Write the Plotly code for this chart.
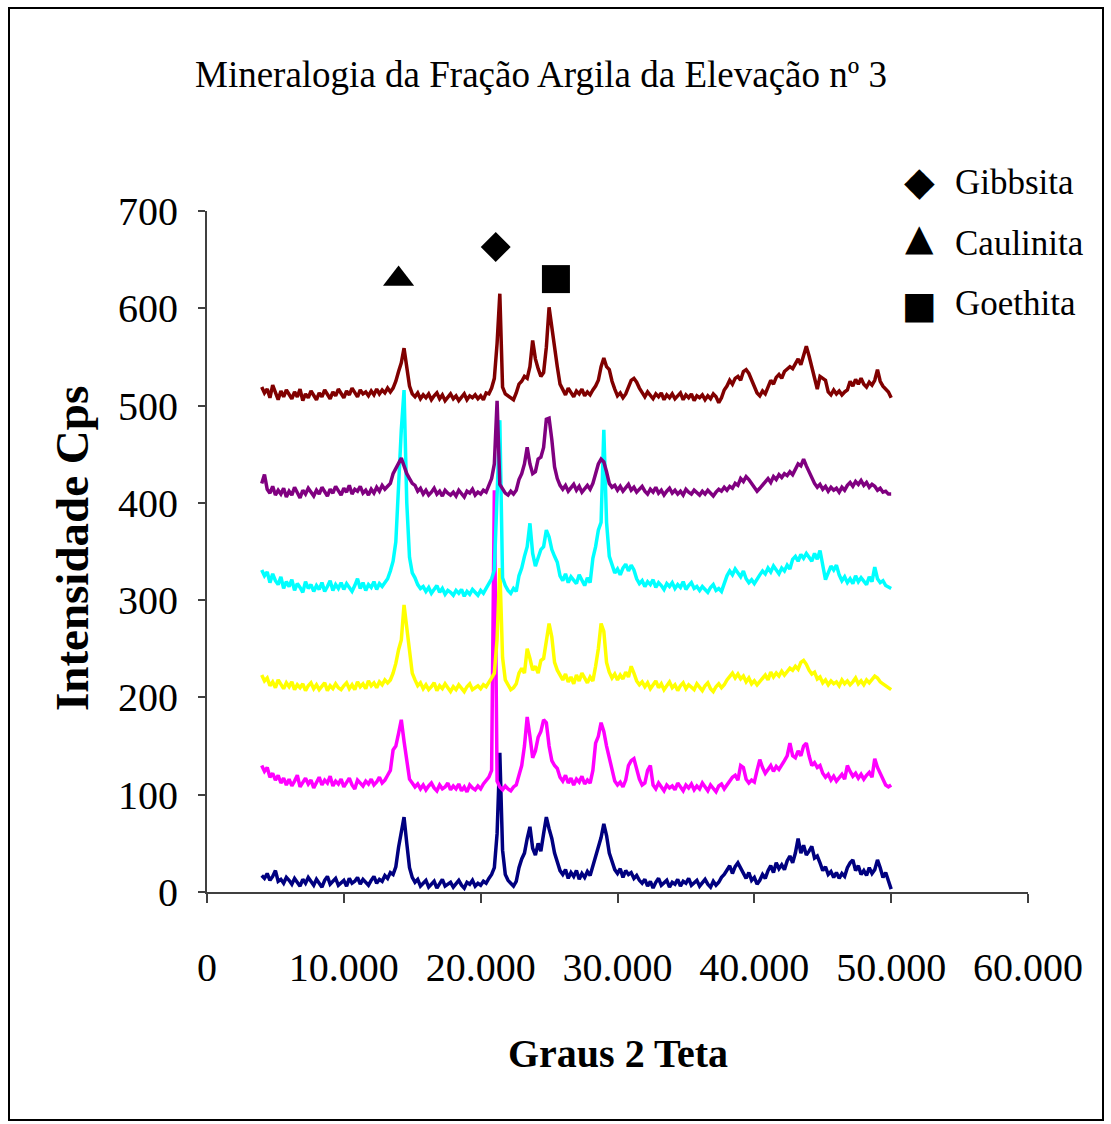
import numpy as np
import plotly.graph_objects as go

# 2-theta sampling grid (degrees)
two_theta = np.round(np.arange(4.0, 50.0001, 0.2), 1)

s1_navy = [
    17, 14, 19, 12, 16, 22, 11, 13, 9, 15,
    12, 8, 14, 10, 6, 13, 9, 15, 11, 7,
    13, 9, 5, 12, 16, 8, 11, 14, 7, 10,
    12, 6, 14, 9, 11, 15, 8, 13, 10, 7,
    12, 16, 9, 13, 11, 17, 14, 20, 18, 26,
    46, 60, 77, 50, 25, 15, 10, 13, 6, 9,
    12, 5, 8, 11, 4, 9, 13, 6, 8, 10,
    5, 9, 12, 7, 4, 10, 8, 12, 6, 9,
    7, 11, 9, 14, 18, 25, 60, 143, 43, 18,
    12, 9, 6, 11, 25, 34, 40, 55, 67, 45,
    38, 50, 42, 60, 77, 65, 55, 40, 30, 22,
    18, 23, 14, 20, 16, 22, 13, 19, 15, 21,
    17, 27, 35, 45, 56, 70, 58, 40, 30, 23,
    19, 24, 15, 22, 18, 20, 14, 17, 12, 9,
    13, 6, 11, 4, 10, 14, 7, 9, 12, 5,
    10, 8, 13, 6, 11, 9, 14, 7, 10, 12,
    6, 9, 13, 8, 5, 11, 7, 10, 15, 18,
    22, 27, 19, 26, 30, 24, 18, 14, 20, 12,
    15, 8, 12, 18, 14, 22, 27, 20, 30, 24,
    28, 23, 32, 37, 30, 40, 55, 40, 48, 38,
    42, 47, 35, 37, 30, 22, 26, 18, 21, 15,
    20, 14, 19, 16, 25, 30, 33, 22, 27, 18,
    22, 17, 25, 19, 23, 33, 25, 15, 20, 12,
    3,
]

s2_magenta = [
    130, 124, 128, 118, 122, 115, 120, 112, 117, 110,
    116, 109, 114, 120, 108, 113, 117, 111, 115, 107,
    113, 118, 110, 115, 112, 119, 109, 114, 111, 116,
    108, 113, 117, 110, 106, 115, 112, 109, 114, 111,
    116, 110, 113, 118, 112, 115, 120, 125, 146, 150,
    163, 177, 155, 137, 116, 112, 108, 111, 106, 110,
    105, 109, 112, 107, 104, 110, 106, 108, 112, 105,
    109, 106, 111, 104, 108, 103, 110, 107, 105, 109,
    106, 111, 115, 118, 125, 413, 114, 108, 105, 109,
    106, 104, 108, 110, 120, 130, 150, 180, 160, 138,
    145, 159, 165, 177, 174, 150, 135, 130, 127, 118,
    114, 120, 112, 117, 110, 116, 113, 119, 111, 115,
    112, 125, 153, 160, 174, 165, 150, 137, 125, 114,
    110, 113, 108, 115, 130, 135, 137, 125, 116, 110,
    112, 125, 130, 110, 106, 112, 108, 104, 110, 107,
    109, 105, 112, 108, 104, 110, 107, 111, 105, 109,
    106, 112, 108, 104, 110, 107, 103, 109, 111, 106,
    110, 114, 118, 120, 115, 130, 128, 116, 112, 115,
    113, 125, 136, 128, 122, 126, 130, 124, 129, 126,
    130, 135, 140, 153, 140, 138, 145, 140, 150, 153,
    140, 130, 133, 128, 130, 122, 118, 121, 115, 119,
    114, 118, 121, 116, 130, 124, 119, 122, 117, 121,
    116, 120, 123, 118, 137, 128, 122, 118, 110, 108,
    110,
]

s3_yellow = [
    223, 217, 220, 212, 216, 210, 218, 213, 209, 215,
    211, 216, 208, 213, 210, 214, 207, 212, 215, 209,
    213, 208, 211, 215, 207, 212, 209, 214, 210, 208,
    212, 215, 209, 213, 208, 216, 211, 214, 209, 217,
    212, 215, 210, 216, 213, 218, 215, 218, 225, 235,
    249, 259, 295, 270, 245, 225, 218, 212, 215, 209,
    213, 208, 211, 215, 207, 212, 209, 214, 210, 206,
    211, 208, 213, 209, 206, 211, 214, 208, 210, 212,
    209, 213, 211, 215, 220, 225, 260, 333, 241, 218,
    212, 208, 210, 214, 225, 230, 225, 250, 240, 228,
    232, 225, 238, 240, 258, 276, 262, 236, 228, 222,
    218, 224, 216, 221, 214, 223, 217, 225, 219, 215,
    221, 217, 232, 250, 276, 268, 236, 226, 220, 224,
    218, 223, 219, 226, 221, 232, 225, 217, 213, 216,
    211, 215, 209, 213, 217, 210, 214, 208, 212, 216,
    210, 213, 207, 212, 215, 209, 213, 211, 208, 214,
    210, 207, 212, 215, 209, 206, 211, 214, 210, 213,
    218, 222, 225, 220, 224, 219, 222, 216, 220, 214,
    217, 213, 216, 220, 223, 218, 226, 221, 225, 222,
    227, 223, 226, 230, 228, 232, 229, 236, 238, 234,
    228, 224, 226, 219, 221, 215, 218, 213, 217, 214,
    216, 212, 218, 214, 217, 213, 216, 220, 214, 217,
    213, 218, 215, 219, 222, 220, 216, 214, 212, 210,
    208,
]

s4_cyan = [
    331, 325, 329, 318, 327, 320, 316, 324, 312, 319,
    314, 321, 310, 317, 313, 308, 319, 312, 316, 309,
    315, 311, 318, 309, 314, 320, 310, 316, 312, 318,
    311, 317, 313, 309, 315, 322, 312, 318, 310, 316,
    313, 319, 311, 317, 314, 318, 322, 330, 340, 360,
    420, 475, 516, 400, 344, 328, 323, 316, 312, 314,
    309, 313, 307, 311, 315, 308, 312, 306, 310, 308,
    305, 310, 307, 311, 304, 309, 306, 311, 308, 305,
    310, 307, 312, 318, 322, 331, 420, 485, 323, 315,
    310, 307, 312, 309, 325, 333, 345, 355, 379, 348,
    335, 345, 352, 355, 372, 365, 352, 345, 339, 325,
    320, 327, 318, 324, 321, 317, 326, 320, 315, 323,
    318, 343, 355, 372, 380, 475, 380, 345, 335, 328,
    332, 326, 333, 337, 330, 336, 331, 322, 317, 320,
    314, 319, 316, 321, 313, 318, 315, 311, 317, 314,
    318, 312, 316, 313, 319, 311, 315, 318, 312, 314,
    310, 314, 311, 308, 313, 316, 310, 312, 309, 318,
    325, 330, 326, 332, 328, 324, 330, 322, 318, 321,
    317, 322, 326, 330, 327, 333, 329, 335, 331, 327,
    333, 330, 336, 332, 342, 345, 340, 347, 343, 348,
    344, 340, 348, 342, 351, 338, 321, 328, 335, 331,
    336, 326, 320, 324, 318, 322, 317, 325, 319, 323,
    320, 316, 324, 319, 334, 322, 318, 320, 315, 313,
    312,
]

s5_purple = [
    420, 429, 414, 410, 417, 408, 413, 409, 415, 406,
    412, 408, 416, 410, 405, 413, 409, 415, 411, 407,
    413, 409, 416, 411, 407, 414, 410, 417, 412, 408,
    415, 411, 418, 409, 414, 412, 417, 410, 413, 408,
    414, 410, 416, 412, 418, 414, 417, 420, 430, 435,
    440, 446, 438, 430, 425, 420, 418, 412, 415, 409,
    413, 408, 411, 415, 409, 412, 407, 413, 410, 408,
    411, 407, 413, 409, 406, 412, 410, 414, 408, 411,
    409, 413, 411, 418, 425, 440, 505, 419, 414, 410,
    408, 412, 409, 413, 424, 430, 440, 457, 440, 430,
    432, 445, 447, 457, 486, 487, 465, 437, 425, 418,
    414, 418, 412, 416, 419, 413, 417, 411, 415, 418,
    414, 420, 430, 440, 445, 442, 432, 420, 416, 418,
    413, 417, 412, 415, 419, 413, 416, 411, 414, 417,
    412, 409, 414, 411, 416, 410, 413, 408, 412, 415,
    410, 413, 409, 412, 408, 414, 411, 409, 413, 410,
    408, 412, 409, 413, 410, 407, 411, 414, 412, 416,
    413, 417, 415, 420, 418, 425, 422, 427, 424, 420,
    416, 412, 415, 418, 422, 425, 421, 427, 424, 429,
    426, 430, 428, 432, 429, 435, 440, 438, 445, 438,
    432, 425, 420, 416, 419, 414, 417, 412, 416, 413,
    415, 411, 416, 413, 418, 421, 417, 422, 419, 423,
    418, 421, 416, 419, 417, 413, 415, 411, 412, 409,
    409,
]

s6_darkred = [
    519, 513, 517, 508, 521, 512, 506, 515, 509, 516,
    511, 507, 514, 509, 517, 505, 512, 508, 515, 510,
    506, 513, 509, 516, 511, 507, 514, 510, 517, 512,
    508, 515, 511, 518, 513, 509, 516, 512, 514, 510,
    515, 511, 517, 512, 516, 513, 518, 514, 518, 525,
    535, 544, 559, 540, 520, 512, 509, 513, 507, 511,
    508, 512, 506, 510, 513, 507, 511, 505, 509, 512,
    507, 510, 505, 509, 512, 506, 510, 508, 511, 507,
    510, 506, 513, 512, 518, 528, 564, 615, 519, 512,
    510, 508, 506, 513, 522, 525, 530, 528, 540, 567,
    548, 538, 530, 534, 560, 601, 580, 557, 540, 522,
    516, 511, 518, 513, 509, 515, 512, 517, 510, 514,
    511, 516, 520, 526, 540, 549, 540, 537, 525, 517,
    510, 513, 508, 512, 520, 526, 528, 524, 518, 513,
    509, 514, 511, 507, 512, 509, 513, 506, 511, 508,
    512, 507, 510, 513, 506, 511, 508, 512, 505, 510,
    508, 511, 506, 510, 507, 512, 509, 503, 508, 516,
    520, 526, 522, 528, 530, 526, 535, 537, 533, 526,
    518, 513, 510, 515, 512, 520, 526, 522, 529, 532,
    528, 535, 537, 540, 538, 544, 548, 542, 551, 561,
    551, 540, 530, 517, 530, 528, 526, 514, 511, 516,
    512, 515, 511, 514, 516, 525, 520, 527, 522, 528,
    522, 519, 524, 521, 526, 537, 525, 520, 517, 514,
    508,
]

# Mineral identification markers
mineral_names = ["Gibbsita", "Caulinita", "Goethita"]
mineral_x = [21.1, 14.0, 25.5]
mineral_y = [663, 630, 630]
mineral_glyphs = ["\u25C6", "\u25B2", "\u25A0"]

x_tick_vals = [0, 10, 20, 30, 40, 50, 60]
x_tick_text = ["0", "10.000", "20.000", "30.000", "40.000", "50.000", "60.000"]
y_tick_vals = [0, 100, 200, 300, 400, 500, 600, 700]

series = [
    (s1_navy, "#000080"),
    (s2_magenta, "#FF00FF"),
    (s3_yellow, "#FFFF00"),
    (s4_cyan, "#00FFFF"),
    (s5_purple, "#800080"),
    (s6_darkred, "#800000"),
]

FONT = "Liberation Serif"
fig = go.Figure()
for vals, col in series:
    fig.add_trace(go.Scatter(x=two_theta, y=vals, mode="lines",
                             line=dict(color=col, width=3.5), showlegend=False,
                             hoverinfo="skip"))

symbols = ["diamond", "triangle-up", "square"]
sizes = [23, 27, 28]
for i in range(3):
    fig.add_trace(go.Scatter(x=[mineral_x[i]], y=[mineral_y[i]], mode="markers",
                             marker=dict(symbol=symbols[i], size=sizes[i], color="black"),
                             showlegend=False, cliponaxis=False))

L, R, T, B = 207, 1028, 211, 892
W, H = 1111, 1124
pw, ph = R - L, B - T


def px(xp):
    return (xp - L) / pw


def py(yp):
    return (B - yp) / ph


annotations = [
    dict(text="Mineralogia da Fração Argila da Elevação nº 3", x=px(541), y=py(74),
         font=dict(family=FONT, size=37, color="black")),
    dict(text="<b>Graus 2 Teta</b>", x=px(618), y=py(1053),
         font=dict(family=FONT, size=40, color="black")),
    dict(text="<b>Intensidade Cps</b>", x=px(72), y=py(549), textangle=-90,
         font=dict(family=FONT, size=47, color="black")),
]
leg_y = [181, 238, 305]
glyph_sizes = [40, 37, 37]
for i in range(3):
    annotations.append(dict(text=mineral_glyphs[i], x=px(919), y=py(leg_y[i]),
                            font=dict(family="DejaVu Sans", size=glyph_sizes[i], color="black")))
    annotations.append(dict(text=mineral_names[i], x=px(953), y=py([183, 243, 303][i]), xanchor="left",
                            font=dict(family=FONT, size=35, color="black")))
for a in annotations:
    a.update(xref="paper", yref="paper", showarrow=False)
    a.setdefault("xanchor", "center")
    a.setdefault("yanchor", "middle")

fig.update_layout(
    width=W, height=H, autosize=False,
    margin=dict(l=L, r=W - R, t=T, b=H - B, pad=0),
    paper_bgcolor="white", plot_bgcolor="white",
    annotations=annotations,
    shapes=[dict(type="rect", xref="paper", yref="paper",
                 x0=px(9), x1=px(1103), y0=py(1120), y1=py(8),
                 line=dict(color="black", width=2))],
    xaxis=dict(range=[0, 60], tickvals=x_tick_vals, ticktext=x_tick_text,
               showgrid=False, zeroline=False, showline=True, linecolor="#404040", linewidth=2,
               ticks="outside", ticklen=9, tickwidth=2, tickcolor="#404040",
               tickfont=dict(family=FONT, size=40, color="black"), ticklabelstandoff=30),
    yaxis=dict(range=[0, 700], tickvals=y_tick_vals,
               showgrid=False, zeroline=False, showline=True, linecolor="#404040", linewidth=2,
               ticks="outside", ticklen=7, tickwidth=2, tickcolor="#404040",
               tickfont=dict(family=FONT, size=40, color="black"), ticklabelstandoff=12),
)
fig.write_html("out.html")
